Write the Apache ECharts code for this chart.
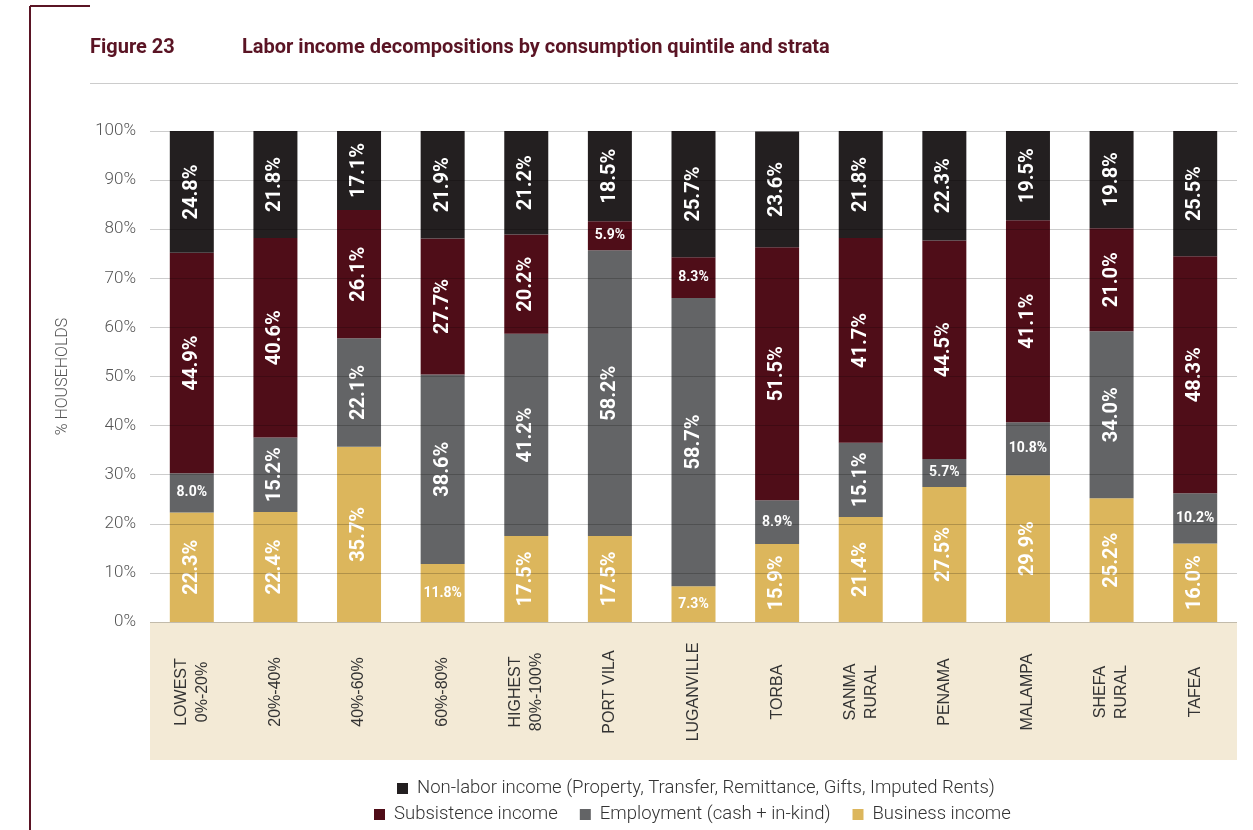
<!DOCTYPE html>
<html>
<head>
<meta charset="utf-8">
<title>Labor income decompositions</title>
<script src="https://cdn.jsdelivr.net/npm/echarts@6/dist/echarts.min.js"></script>
<style>
  html, body { margin: 0; padding: 0; background: #ffffff; }
  #chart { width: 1253px; height: 830px; }
</style>
</head>
<body>
<div id="chart"></div>
<script>
// Groups: consumption quintiles followed by strata
const categories = [
  'LOWEST\n0%-20%', '20%-40%', '40%-60%', '60%-80%', 'HIGHEST\n80%-100%',
  'PORT VILA', 'LUGANVILLE', 'TORBA', 'SANMA\nRURAL', 'PENAMA',
  'MALAMPA', 'SHEFA\nRURAL', 'TAFEA'
];

// Shares of household labor income (%), bottom to top of each bar
const businessIncome    = [22.3, 22.4, 35.7, 11.8, 17.5, 17.5, 7.3, 15.9, 21.4, 27.5, 29.9, 25.2, 16.0];
const employmentIncome  = [8.0, 15.2, 22.1, 38.6, 41.2, 58.2, 58.7, 8.9, 15.1, 5.7, 10.8, 34.0, 10.2];
const subsistenceIncome = [44.9, 40.6, 26.1, 27.7, 20.2, 5.9, 8.3, 51.5, 41.7, 44.5, 41.1, 21.0, 48.3];
const nonLaborIncome    = [24.8, 21.8, 17.1, 21.9, 21.2, 18.5, 25.7, 23.6, 21.8, 22.3, 19.5, 19.8, 25.5];

const yTicks = [0, 10, 20, 30, 40, 50, 60, 70, 80, 90, 100];

const seriesNames = {
  nonLabor: 'Non-labor income (Property, Transfer, Remittance, Gifts, Imputed Rents)',
  subsistence: 'Subsistence income',
  employment: 'Employment (cash + in-kind)',
  business: 'Business income'
};

const colors = {
  nonLabor: '#231f20',
  subsistence: '#4f0d18',
  employment: '#636466',
  business: '#dcb65c'
};

const maroon = '#5a1424';

// Tall segments carry a vertical label; short ones a small horizontal one
function toData(values) {
  return values.map(function (v) {
    if (v < 12) {
      return { value: v, label: { rotate: 0, fontSize: 14 } };
    }
    return v;
  });
}

function makeSeries(name, values, color) {
  return {
    name: name,
    type: 'bar',
    stack: 'share',
    barWidth: 44,
    clip: true,
    itemStyle: { color: color },
    label: {
      show: true,
      position: 'inside',
      rotate: 90,
      color: '#ffffff',
      fontFamily: 'Roboto',
      fontWeight: 'bold',
      fontSize: 20,
      formatter: function (p) { return p.value.toFixed(1) + '%'; }
    },
    emphasis: { disabled: true },
    data: toData(values)
  };
}

const chart = echarts.init(document.getElementById('chart'), null, { renderer: 'canvas' });

const legendText = {
  fontFamily: 'Roboto', fontWeight: 300, fontSize: 18.5, color: '#333333',
  padding: [0, 0, 0, 4]
};

chart.setOption({
  animation: false,
  backgroundColor: '#ffffff',
  title: [
    {
      text: 'Figure 23',
      left: 85, top: 33,
      textStyle: { fontFamily: 'Roboto', fontWeight: 'bold', fontSize: 20, color: maroon }
    },
    {
      text: 'Labor income decompositions by consumption quintile and strata',
      left: 237, top: 33,
      textStyle: { fontFamily: 'Roboto', fontWeight: 'bold', fontSize: 20, color: maroon }
    }
  ],
  graphic: [
    { type: 'line', z: 1, shape: { x1: 30, y1: 6, x2: 30, y2: 830 }, style: { stroke: maroon, lineWidth: 2 } },
    { type: 'line', z: 1, shape: { x1: 30, y1: 6, x2: 90, y2: 6 }, style: { stroke: maroon, lineWidth: 2 } },
    { type: 'line', z: 1, shape: { x1: 90, y1: 83.5, x2: 1238, y2: 83.5 }, style: { stroke: '#cccccc', lineWidth: 1 } },
    { type: 'rect', z: -1, shape: { x: 150, y: 622, width: 1087, height: 138 }, style: { fill: '#f3ead6' } }
  ],
  legend: [
    {
      data: [seriesNames.nonLabor],
      left: 392, top: 774,
      icon: 'rect', itemWidth: 11, itemHeight: 11, itemGap: 22,
      selectedMode: false,
      textStyle: legendText
    },
    {
      data: [seriesNames.subsistence, seriesNames.employment, seriesNames.business],
      left: 369, top: 800,
      icon: 'rect', itemWidth: 11, itemHeight: 11, itemGap: 22,
      selectedMode: false,
      textStyle: legendText
    }
  ],
  grid: { left: 150, right: 16, top: 131, bottom: 208, containLabel: false },
  xAxis: {
    type: 'category',
    data: categories,
    z: 10,
    axisLine: { show: false },
    axisTick: { show: false },
    axisLabel: {
      rotate: 90,
      interval: 0,
      align: 'center',
      verticalAlign: 'middle',
      margin: 70,
      fontFamily: 'Liberation Sans',
      fontSize: 16,
      lineHeight: 21,
      color: '#333333'
    }
  },
  yAxis: {
    type: 'value',
    min: yTicks[0],
    max: yTicks[yTicks.length - 1],
    interval: 10,
    z: 3,
    name: '% HOUSEHOLDS',
    nameLocation: 'middle',
    nameGap: 79,
    nameRotate: 90,
    nameTextStyle: { fontFamily: 'Roboto', fontWeight: 300, fontSize: 16, color: '#555555' },
    axisLine: { show: false },
    axisTick: { show: false },
    splitLine: { show: true, lineStyle: { color: 'rgba(0,0,0,0.2)', width: 1 } },
    axisLabel: {
      margin: 14,
      fontFamily: 'Roboto',
      fontWeight: 300,
      fontSize: 17,
      color: '#555555',
      verticalAlign: 'middle',
      padding: [0, 0, 10, 0],
      formatter: '{value}%'
    }
  },
  series: [
    makeSeries(seriesNames.business, businessIncome, colors.business),
    makeSeries(seriesNames.employment, employmentIncome, colors.employment),
    makeSeries(seriesNames.subsistence, subsistenceIncome, colors.subsistence),
    makeSeries(seriesNames.nonLabor, nonLaborIncome, colors.nonLabor)
  ]
});
</script>
</body>
</html>
